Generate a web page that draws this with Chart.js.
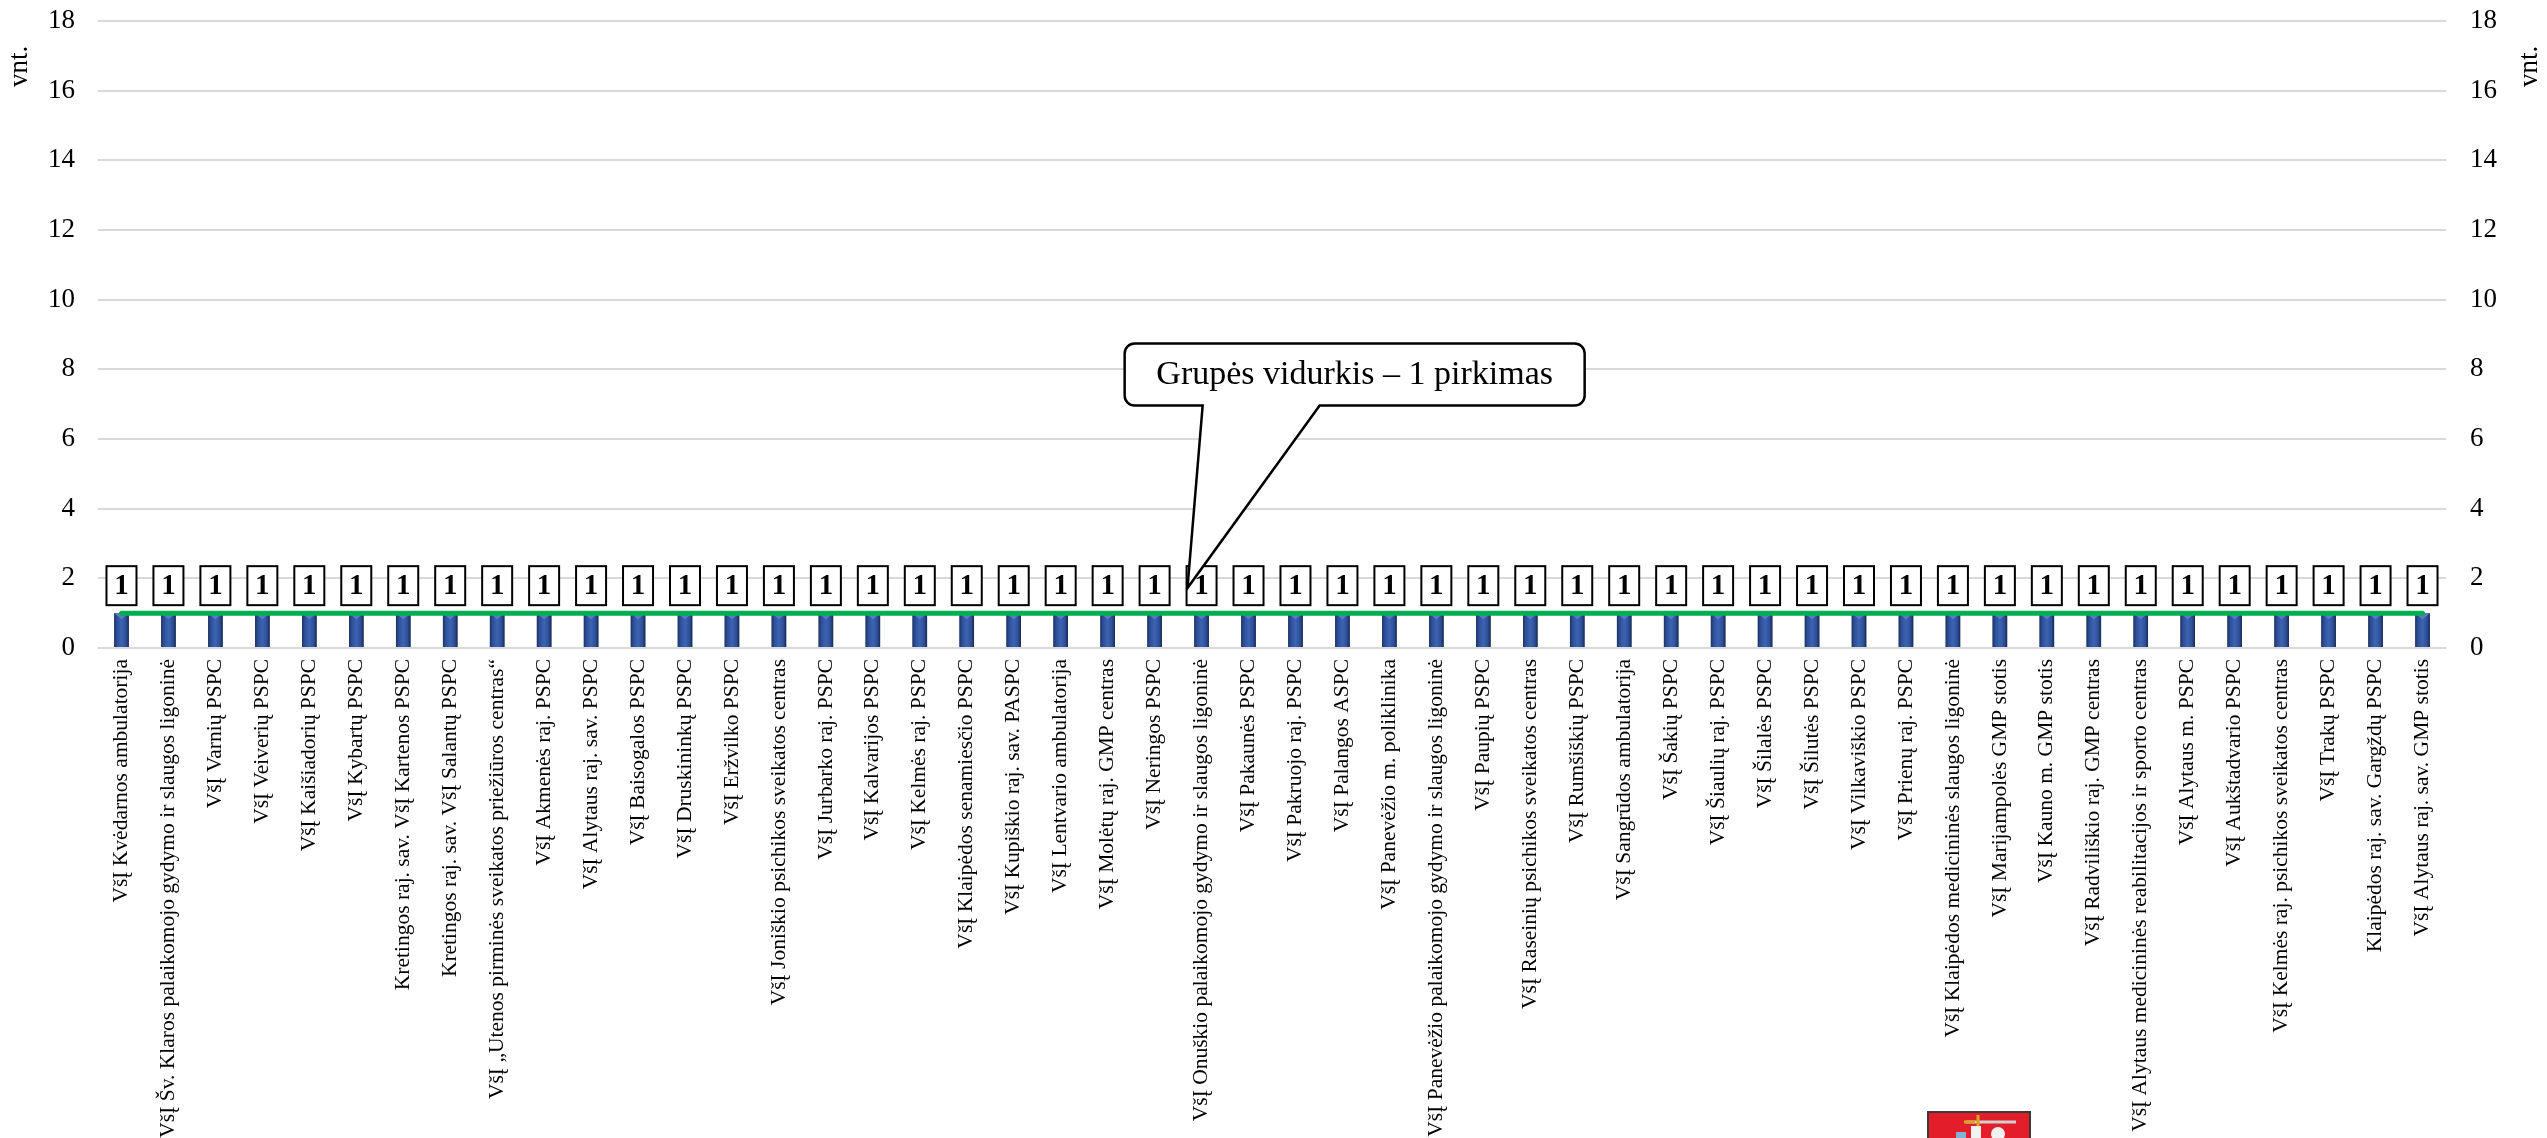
<!DOCTYPE html>
<html lang="lt">
<head>
<meta charset="utf-8">
<title>Pirkimai</title>
<script src="https://cdn.jsdelivr.net/npm/chart.js@4/dist/chart.umd.min.js"></script>
<style>
  html, body { margin: 0; padding: 0; background: #fff; }
  #wrap { width: 2547px; height: 1138px; position: relative; }
</style>
</head>
<body>
<div id="wrap"><canvas id="pirkimai-chart"></canvas></div>
<script>
// Įstaigos (kategorijos)
const categories = [
    'VšĮ Kvėdarnos ambulatorija',
    'VšĮ Šv. Klaros palaikomojo gydymo ir slaugos ligoninė',
    'VšĮ Varnių PSPC',
    'VšĮ Veiverių PSPC',
    'VšĮ Kaišiadorių PSPC',
    'VšĮ Kybartų PSPC',
    'Kretingos raj. sav. VšĮ Kartenos PSPC',
    'Kretingos raj. sav. VšĮ Salantų PSPC',
    'VšĮ „Utenos pirminės sveikatos priežiūros centras“',
    'VšĮ Akmenės raj. PSPC',
    'VšĮ Alytaus raj. sav. PSPC',
    'VšĮ Baisogalos PSPC',
    'VšĮ Druskininkų PSPC',
    'VšĮ Eržvilko PSPC',
    'VšĮ Joniškio psichikos sveikatos centras',
    'VšĮ Jurbarko raj. PSPC',
    'VšĮ Kalvarijos PSPC',
    'VšĮ Kelmės raj. PSPC',
    'VšĮ Klaipėdos senamiesčio PSPC',
    'VšĮ Kupiškio raj. sav. PASPC',
    'VšĮ Lentvario ambulatorija',
    'VšĮ Molėtų raj. GMP centras',
    'VšĮ Neringos PSPC',
    'VšĮ Onuškio palaikomojo gydymo ir slaugos ligoninė',
    'VšĮ Pakaunės PSPC',
    'VšĮ Pakruojo raj. PSPC',
    'VšĮ Palangos ASPC',
    'VšĮ Panevėžio m. poliklinika',
    'VšĮ Panevėžio palaikomojo gydymo ir slaugos ligoninė',
    'VšĮ Paupių PSPC',
    'VšĮ Raseinių psichikos sveikatos centras',
    'VšĮ Rumšiškių PSPC',
    'VšĮ Sangrūdos ambulatorija',
    'VšĮ Šakių PSPC',
    'VšĮ Šiaulių raj. PSPC',
    'VšĮ Šilalės PSPC',
    'VšĮ Šilutės PSPC',
    'VšĮ Vilkaviškio PSPC',
    'VšĮ Prienų raj. PSPC',
    'VšĮ Klaipėdos medicininės slaugos ligoninė',
    'VšĮ Marijampolės GMP stotis',
    'VšĮ Kauno m. GMP stotis',
    'VšĮ Radviliškio raj. GMP centras',
    'VšĮ Alytaus medicininės reabilitacijos ir sporto centras',
    'VšĮ Alytaus m. PSPC',
    'VšĮ Aukštadvario PSPC',
    'VšĮ Kelmės raj. psichikos sveikatos centras',
    'VšĮ Trakų PSPC',
    'Klaipėdos raj. sav. Gargždų PSPC',
    'VšĮ Alytaus raj. sav. GMP stotis'
];

// Pirkimų skaičius
const purchaseCounts = [
    1, 1, 1, 1, 1, 1, 1, 1, 1, 1,
    1, 1, 1, 1, 1, 1, 1, 1, 1, 1,
    1, 1, 1, 1, 1, 1, 1, 1, 1, 1,
    1, 1, 1, 1, 1, 1, 1, 1, 1, 1,
    1, 1, 1, 1, 1, 1, 1, 1, 1, 1
];

// Grupės vidurkis
const groupAverage = [
    1, 1, 1, 1, 1, 1, 1, 1, 1, 1,
    1, 1, 1, 1, 1, 1, 1, 1, 1, 1,
    1, 1, 1, 1, 1, 1, 1, 1, 1, 1,
    1, 1, 1, 1, 1, 1, 1, 1, 1, 1,
    1, 1, 1, 1, 1, 1, 1, 1, 1, 1
];

// Ašies ribos
const yMin = 0;
const yMax = 18;
const yStep = 2;
const axisTitle = 'vnt.';
const calloutText = 'Grupės vidurkis – 1 pirkimas';

const SERIF = "'Liberation Serif', 'Times New Roman', serif";
Chart.defaults.font.family = SERIF;
Chart.defaults.color = '#000';

// Bevel efektas stulpeliams
const barBevel = {
    id: 'barBevel',
    afterDatasetDraw(chart, args) {
        if (args.index !== 1) return;
        const ctx = chart.ctx;
        args.meta.data.forEach(bar => {
            const l = bar.x - bar.width / 2;
            const w = bar.width;
            const top = bar.y;
            const h = bar.base - bar.y;
            const g = ctx.createLinearGradient(l, 0, l + w, 0);
            g.addColorStop(0, '#1d3363');
            g.addColorStop(0.2, '#2e5098');
            g.addColorStop(0.5, '#3d63b2');
            g.addColorStop(0.8, '#2e5098');
            g.addColorStop(1, '#172a52');
            ctx.save();
            ctx.fillStyle = g;
            ctx.fillRect(l, top, w, h);
            // top bevel
            ctx.fillStyle = '#5a7cc6';
            ctx.beginPath();
            ctx.moveTo(l, top);
            ctx.lineTo(l + w, top);
            ctx.lineTo(l + w / 2, top + 6);
            ctx.closePath();
            ctx.fill();
            ctx.restore();
        });
    }
};

// Reikšmių etiketės rėmeliuose
const valueBoxes = {
    id: 'valueBoxes',
    afterDatasetsDraw(chart) {
        const ctx = chart.ctx;
        const meta = chart.getDatasetMeta(1);
        ctx.save();
        ctx.font = 'bold 29px ' + SERIF;
        ctx.textAlign = 'center';
        ctx.textBaseline = 'middle';
        meta.data.forEach((bar, i) => {
            const bw = 30, bh = 39;
            const bottom = bar.y - 8;
            ctx.fillStyle = '#fff';
            ctx.fillRect(bar.x - bw / 2, bottom - bh, bw, bh);
            ctx.strokeStyle = '#000';
            ctx.lineWidth = 2;
            ctx.strokeRect(bar.x - bw / 2, bottom - bh, bw, bh);
            ctx.fillStyle = '#000';
            ctx.fillText(String(purchaseCounts[i]), bar.x, bottom - bh / 2 + 1);
        });
        ctx.restore();
    }
};

// Ašių pavadinimai, paaiškinimas ir herbas
const extras = {
    id: 'extras',
    afterDraw(chart) {
        const ctx = chart.ctx;
        const x = chart.scales.x;
        const y = chart.scales.y;
        ctx.save();

        // vnt. abiejose pusėse
        ctx.font = '27px ' + SERIF;
        ctx.fillStyle = '#000';
        ctx.textAlign = 'center';
        ctx.textBaseline = 'middle';
        [20, 2530].forEach(px => {
            ctx.save();
            ctx.translate(px, y.getPixelForValue(16.7));
            ctx.rotate(-Math.PI / 2);
            ctx.fillText(axisTitle, 0, 0);
            ctx.restore();
        });

        // paaiškinimo debesėlis
        const step = x.getPixelForValue(1) - x.getPixelForValue(0);
        const cx = x.getPixelForValue(26.26);
        const boxW = 460, boxH = 62, r = 10;
        const bTop = y.getPixelForValue(8.74);
        const bBot = bTop + boxH;
        const bL = cx - boxW / 2, bR = cx + boxW / 2;
        const tipX = x.getPixelForValue(23) - 0.3 * step;
        const tipY = y.getPixelForValue(1.72);
        const baseL = bL + 78, baseR = bL + 195;
        ctx.beginPath();
        ctx.moveTo(baseL, bBot);
        ctx.lineTo(tipX, tipY);
        ctx.lineTo(baseR, bBot);
        ctx.lineTo(bR - r, bBot);
        ctx.arcTo(bR, bBot, bR, bBot - r, r);
        ctx.lineTo(bR, bTop + r);
        ctx.arcTo(bR, bTop, bR - r, bTop, r);
        ctx.lineTo(bL + r, bTop);
        ctx.arcTo(bL, bTop, bL, bTop + r, r);
        ctx.lineTo(bL, bBot - r);
        ctx.arcTo(bL, bBot, bL + r, bBot, r);
        ctx.closePath();
        ctx.fillStyle = '#fff';
        ctx.fill();
        ctx.strokeStyle = '#000';
        ctx.lineWidth = 2.5;
        ctx.lineJoin = 'miter';
        ctx.stroke();
        ctx.fillStyle = '#000';
        ctx.font = '34px ' + SERIF;
        ctx.fillText(calloutText, cx, bTop + boxH / 2 + 1);

        // herbas apačioje
        const hx = 1928, hy = 1112;
        ctx.fillStyle = '#e31e2a';
        ctx.fillRect(hx, hy, 102, 40);
        ctx.strokeStyle = '#3a3a3a';
        ctx.lineWidth = 2;
        ctx.strokeRect(hx, hy, 102, 40);
        ctx.strokeStyle = '#cfcfcf';
        ctx.lineWidth = 3;
        ctx.beginPath();
        ctx.moveTo(hx + 38, hy + 10);
        ctx.lineTo(hx + 88, hy + 10);
        ctx.stroke();
        ctx.strokeStyle = '#d9a520';
        ctx.beginPath();
        ctx.moveTo(hx + 50, hy + 3);
        ctx.lineTo(hx + 50, hy + 17);
        ctx.moveTo(hx + 36, hy + 10);
        ctx.lineTo(hx + 47, hy + 10);
        ctx.stroke();
        ctx.fillStyle = '#f2f2f2';
        ctx.beginPath();
        ctx.arc(hx + 70, hy + 22, 7, 0, Math.PI * 2);
        ctx.fill();
        ctx.fillRect(hx + 43, hy + 14, 10, 12);
        ctx.fillStyle = '#7fb3d5';
        ctx.fillRect(hx + 28, hy + 20, 10, 10);
        ctx.restore();
    }
};

function fixYAxis(width) {
    return function(scale) {
        scale.width = width;
        scale.paddingTop = 0;
        scale.paddingBottom = 0;
    };
}

const ctxEl = document.getElementById('pirkimai-chart');
new Chart(ctxEl, {
    type: 'bar',
    data: {
        labels: categories,
        datasets: [
            {
                type: 'line',
                label: 'Grupės vidurkis',
                data: groupAverage,
                borderColor: '#00b050',
                borderWidth: 5,
                borderCapStyle: 'round',
                pointRadius: 0,
                fill: false,
                order: 0
            },
            {
                label: 'Pirkimai',
                data: purchaseCounts,
                backgroundColor: '#2a4a8e',
                categoryPercentage: 1,
                barPercentage: 0.31,
                order: 1
            }
        ]
    },
    options: {
        responsive: true,
        maintainAspectRatio: false,
        animation: false,
        layout: { padding: { top: 21, left: 0, right: 0, bottom: 0 } },
        plugins: {
            legend: { display: false },
            tooltip: { enabled: false }
        },
        scales: {
            x: {
                grid: { display: false },
                border: { display: false },
                ticks: {
                    autoSkip: false,
                    maxRotation: 90,
                    minRotation: 90,
                    padding: 3,
                    font: { size: 21.5 }
                },
                afterFit(scale) {
                    scale.height = 490;
                    scale.paddingLeft = 0;
                    scale.paddingRight = 0;
                }
            },
            y: {
                position: 'left',
                min: yMin,
                max: yMax,
                grid: { color: '#d9d9d9', lineWidth: 2, drawTicks: false },
                border: { display: false },
                ticks: { stepSize: yStep, padding: 23, font: { size: 27 } },
                afterFit: fixYAxis(98)
            },
            y2: {
                position: 'right',
                min: yMin,
                max: yMax,
                grid: { display: false, drawTicks: false },
                border: { display: false },
                ticks: { stepSize: yStep, padding: 24, font: { size: 27 } },
                afterFit: fixYAxis(101)
            }
        }
    },
    plugins: [barBevel, valueBoxes, extras]
});
</script>
</body>
</html>
